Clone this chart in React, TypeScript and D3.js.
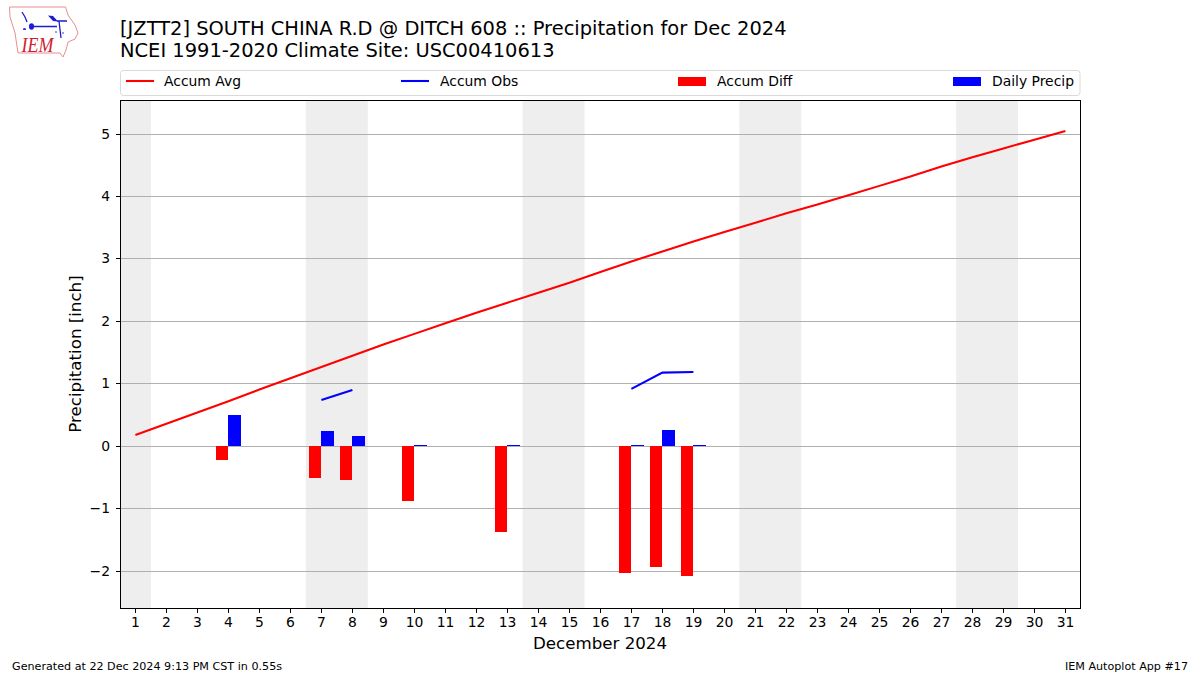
import React, { useRef, useEffect } from "react";
import * as d3 from "d3";

const days = d3.range(1, 32);
const accumAvg = [0.18, 0.36, 0.54, 0.72, 0.91, 1.09, 1.27, 1.45, 1.63, 1.8, 1.97, 2.14, 2.3, 2.46, 2.62, 2.79, 2.96, 3.12, 3.28, 3.43, 3.58, 3.73, 3.87, 4.02, 4.17, 4.32, 4.48, 4.63, 4.77, 4.91, 5.05];
// days that have an observation
const obsDays = [4, 7, 8, 10, 13, 17, 18, 19];
const dailyPrecip = [0.5, 0.24, 0.16, 0.02, 0.02, 0.02, 0.26, 0.02];
const accumDiff = [-0.22, -0.51, -0.54, -0.88, -1.38, -2.03, -1.94, -2.08];
const accumObs = [0.5, 0.74, 0.9, 0.92, 0.92, 0.92, 1.18, 1.19];
const weekends = [[0.5, 1.5], [6.5, 8.5], [13.5, 15.5], [20.5, 22.5], [27.5, 29.5]];
const yTicks = [-2, -1, 0, 1, 2, 3, 4, 5];

const titleLines = [
  "[JZTT2] SOUTH CHINA R.D @ DITCH 608 :: Precipitation for Dec 2024",
  "NCEI 1991-2020 Climate Site: USC00410613",
];

const width = 1200;
const height = 675;
const margin = { top: 100, right: 120, bottom: 67, left: 120 };
const font = "'DejaVu Sans', sans-serif";

const App = () => {
  const svgRef = useRef<SVGSVGElement>(null);

  useEffect(() => {
    const svg = d3.select(svgRef.current);
    svg.selectAll("*").remove(); // Clear previous contents
    svg.attr("font-family", font);

    // shading runs edge to edge, days sit on a 31px step
    const xSpan = d3.scaleLinear().domain([0.5, 31.5]).range([margin.left, width - margin.right]);
    const x = d3.scaleLinear().domain([1, 31]).range([135.4, 1065.4]);
    const y = d3.scaleLinear().domain([-2.581, 5.545]).range([height - margin.bottom - 0.5, margin.top]);
    const snap = (v: number) => Math.floor(v) + 0.5; // crisp 1px lines
    const base = Math.floor(y(0));

    // Weekend shading
    svg.append("g").selectAll("rect").data(weekends).enter().append("rect")
      .attr("x", d => xSpan(d[0]))
      .attr("width", d => xSpan(d[1]) - xSpan(d[0]))
      .attr("y", margin.top)
      .attr("height", height - margin.bottom - margin.top)
      .attr("fill", "#eeeeee");

    // Grid
    svg.append("g").selectAll("line").data(yTicks).enter().append("line")
      .attr("x1", margin.left)
      .attr("x2", width - margin.right)
      .attr("y1", d => snap(y(d)))
      .attr("y2", d => snap(y(d)))
      .attr("stroke", "#b0b0b0")
      .attr("stroke-width", 1);

    // Bars, edges rounded to whole pixels
    svg.append("g").selectAll("rect").data(obsDays).enter().append("rect")
      .attr("x", d => Math.round(x(d - 0.4)))
      .attr("width", d => Math.round(x(d)) - Math.round(x(d - 0.4)))
      .attr("y", base)
      .attr("height", (d, i) => Math.round(y(accumDiff[i])) - base)
      .attr("fill", "#ff0000");

    svg.append("g").selectAll("rect").data(obsDays).enter().append("rect")
      .attr("x", d => Math.round(x(d)))
      .attr("width", d => Math.round(x(d + 0.4)) - Math.round(x(d)))
      .attr("y", (d, i) => Math.round(y(dailyPrecip[i])))
      .attr("height", (d, i) => base - Math.round(y(dailyPrecip[i])))
      .attr("fill", "#0000ff");

    // Lines
    const line = d3.line<[number, number]>().x(d => x(d[0])).y(d => y(d[1]));
    svg.append("path")
      .attr("d", line(days.map((d, i) => [d, accumAvg[i]])))
      .attr("fill", "none").attr("stroke", "#ff0000").attr("stroke-width", 2.08);

    // Obs line only joins consecutive days
    const obsLine = d3.line<number>()
      .defined(d => obsDays.includes(d))
      .x(d => x(d))
      .y(d => y(accumObs[obsDays.indexOf(d)]));
    svg.append("path")
      .attr("d", obsLine(days))
      .attr("fill", "none").attr("stroke", "#0000ff").attr("stroke-width", 2.08);

    // Axes
    const bottom = svg.append("g")
      .attr("transform", `translate(0,${height - margin.bottom + 0.5})`)
      .call(d3.axisBottom(x).tickValues(days).tickFormat(d3.format("d")).tickSize(4.5).tickSizeOuter(0).offset(0));
    const left = svg.append("g")
      .attr("transform", `translate(${margin.left + 0.5},0)`)
      .call(d3.axisLeft(y).tickValues(yTicks).tickFormat(d3.format("d")).tickSize(4.5).tickSizeOuter(0).offset(0));
    [bottom, left].forEach(g => {
      g.select(".domain").remove();
      g.selectAll("text").attr("font-size", 13.9).attr("font-family", font).attr("fill", "#000");
      g.selectAll("line").attr("stroke", "#000");
    });
    bottom.selectAll(".tick").attr("transform", (d: any) => `translate(${snap(x(d))},0)`);
    left.selectAll(".tick").attr("transform", (d: any) => `translate(0,${snap(y(d))})`);
    bottom.selectAll("text").attr("y", 9);
    left.selectAll("text").attr("x", -10.5);

    // Axes frame
    svg.append("rect")
      .attr("x", margin.left + 0.5)
      .attr("y", margin.top + 0.5)
      .attr("width", width - margin.right - margin.left)
      .attr("height", height - margin.bottom - margin.top)
      .attr("fill", "none").attr("stroke", "#000").attr("stroke-width", 1);

    // Labels
    svg.append("text")
      .attr("text-anchor", "middle")
      .attr("x", 600).attr("y", 649)
      .attr("font-size", 16.67)
      .text("December 2024");
    svg.append("text")
      .attr("text-anchor", "middle")
      .attr("transform", "translate(80.5,354)rotate(-90)")
      .attr("font-size", 16.67)
      .text("Precipitation [inch]");

    svg.selectAll(".title").data(titleLines).enter().append("text")
      .attr("class", "title")
      .attr("x", 120)
      .attr("y", (d, i) => 35 + i * 22)
      .attr("font-size", 19.45)
      .text(d => d);

    // Legend
    const legend = svg.append("g");
    legend.append("rect")
      .attr("x", 120.5).attr("y", 70.5).attr("width", 959.5).attr("height", 25).attr("rx", 3)
      .attr("fill", "#fff").attr("stroke", "#d9d9d9");
    const entries = [
      { label: "Accum Avg", color: "#ff0000", kind: "line", at: 126, textAt: 164 },
      { label: "Accum Obs", color: "#0000ff", kind: "line", at: 401, textAt: 440 },
      { label: "Accum Diff", color: "#ff0000", kind: "bar", at: 678, textAt: 717 },
      { label: "Daily Precip", color: "#0000ff", kind: "bar", at: 953, textAt: 992 },
    ];
    entries.forEach(e => {
      if (e.kind === "line") {
        legend.append("line")
          .attr("x1", e.at).attr("x2", e.at + 28).attr("y1", 81).attr("y2", 81)
          .attr("stroke", e.color).attr("stroke-width", 2.08);
      } else {
        legend.append("rect")
          .attr("x", e.at).attr("y", 77).attr("width", 28).attr("height", 9)
          .attr("fill", e.color);
      }
      legend.append("text")
        .attr("x", e.textAt).attr("y", 86)
        .attr("font-size", 13.9)
        .text(e.label);
    });

    // Footer
    svg.append("text")
      .attr("x", 12).attr("y", 670).attr("font-size", 11.15)
      .text("Generated at 22 Dec 2024 9:13 PM CST in 0.55s");
    svg.append("text")
      .attr("x", 1188).attr("y", 670).attr("font-size", 11.15).attr("text-anchor", "end")
      .text("IEM Autoplot App #17");

    // IEM logo
    const logo = svg.append("g");
    logo.append("path")
      .attr("d", "M9.5,7 L65.5,7 L68,15 L75,25 L78,33 L75,39 L68,42 L66,50 L63,57 L60,53 L18,53 L15,33 L10,17 Z")
      .attr("fill", "#fff").attr("stroke", "#e49090").attr("stroke-width", 1);
    logo.append("path")
      .attr("d", "M33,26.5 L57,26.5 M59,21 L61,38 M57,21 L67,21 M22,12 L25,17 L27,22")
      .attr("fill", "none").attr("stroke", "#1c1cd0").attr("stroke-width", 1.3);
    logo.append("path").attr("d", "M48,15.5 L53,16 L58,21.5 L53,21 Z").attr("fill", "#1c1cd0");
    logo.append("ellipse").attr("cx", 31.5).attr("cy", 26.5).attr("rx", 2.5).attr("ry", 3.2).attr("fill", "#1c1cd0");
    logo.append("path")
      .attr("d", "M23,29.5 h1 v-1 h1 v1 h1 M55,32 h2 M62,33 h2")
      .attr("fill", "none").attr("stroke", "#3a3ad8").attr("stroke-width", 1.2);
    logo.append("text")
      .attr("x", 21.5).attr("y", 52)
      .attr("font-family", "'Liberation Serif', serif")
      .attr("font-style", "italic")
      .attr("font-size", 21)
      .attr("textLength", 32)
      .attr("lengthAdjust", "spacingAndGlyphs")
      .attr("fill", "#d02030")
      .text("IEM");
  }, []);

  return (
    <svg
      ref={svgRef}
      width={width}
      height={height}
      style={{ position: "absolute", left: 0, top: 0, background: "#fff" }}
    ></svg>
  );
};

export default App;
